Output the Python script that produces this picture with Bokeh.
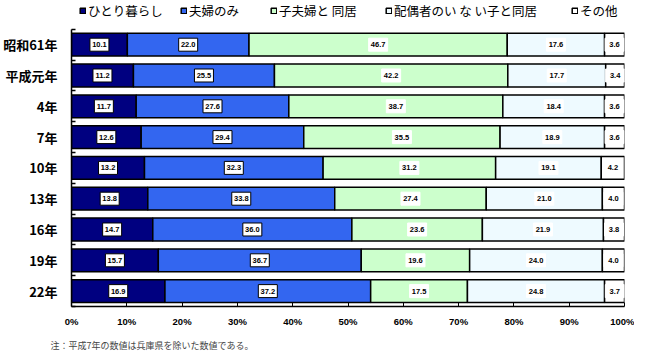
from bokeh.plotting import figure
from bokeh.models import ColumnDataSource, Legend, LegendItem, FixedTicker, Title, Range1d
from bokeh.core.properties import value
from bokeh.embed import file_html
from bokeh.resources import INLINE

years = ["昭和61年", "平成元年", "4年", "7年", "10年", "13年", "16年", "19年", "22年"]
series_names = ["ひとり暮らし", "夫婦のみ", "子夫婦と 同居", "配偶者のい な い子と同居", "その他"]
hitori = [10.1, 11.2, 11.7, 12.6, 13.2, 13.8, 14.7, 15.7, 16.9]
fufu = [22.0, 25.5, 27.6, 29.4, 32.3, 33.8, 36.0, 36.7, 37.2]
kofufu = [46.7, 42.2, 38.7, 35.5, 31.2, 27.4, 23.6, 19.6, 17.5]
haigu = [17.6, 17.7, 18.4, 18.9, 19.1, 21.0, 21.9, 24.0, 24.8]
sonota = [3.6, 3.4, 3.6, 3.6, 4.2, 4.0, 3.8, 4.0, 3.7]
x_ticks = [0, 10, 20, 30, 40, 50, 60, 70, 80, 90, 100]
note = "注：平成7年の数値は兵庫県を除いた数値である。"

colors = ["#000080", "#3366f0", "#ccffcc", "#eefaff", "#ffffff"]
label_borders = ["black", "black", "white", "white", "white"]
series = [hitori, fufu, kofufu, haigu, sonota]
legend_x = [8, 109, 199, 314, 500]   # legend item offsets (px from plot left)

JP = "Noto Sans CJK JP"
n = len(years)
ypos = [n - 1 - i for i in range(n)]   # first category on top

p = figure(width=634, height=358, x_range=(0, 100), y_range=Range1d(-0.5, n - 0.5 + 0.87),
           output_backend="svg", toolbar_location=None,
           min_border_left=65, min_border_right=10, min_border_top=2, min_border_bottom=48)
p.outline_line_color = None
p.xgrid.grid_line_color = None
p.ygrid.grid_line_color = None

left = [0.0] * n
for vals, col, name, bcol, lx in zip(series, colors, series_names, label_borders, legend_x):
    right = [l + v for l, v in zip(left, vals)]
    mid = [(l + r) / 2 for l, r in zip(left, right)]
    src = ColumnDataSource(dict(y=ypos, left=left, right=right, mid=mid,
                                lab=[f"{v:.1f}" for v in vals]))
    r = p.hbar(y="y", left="left", right="right", height=0.74, source=src,
               fill_color=col, line_color="black", line_width=1.5)
    p.rect(x="mid", y="y", width=19, height=13, width_units="screen",
           height_units="screen", source=src, fill_color="white",
           line_color=bcol, line_width=1)
    p.text(x="mid", y="y", text="lab", source=src, text_align="center",
           text_baseline="middle", text_font=value("Liberation Sans"),
           text_font_size="7.5px", text_font_style="bold", text_color="black")
    lg = Legend(items=[LegendItem(label=name, renderers=[r])], location=(lx, 286),
                glyph_width=7, glyph_height=7, label_text_font=JP,
                label_text_font_size="12.5px", label_standoff=2,
                label_text_color="black",
                padding=0, margin=0, border_line_color=None,
                background_fill_alpha=0, label_height=14)
    p.add_layout(lg)
    left = right

p.xaxis.ticker = FixedTicker(ticks=x_ticks)
p.xaxis.major_label_overrides = {t: f"{t}%" for t in x_ticks}
p.xaxis.major_label_text_font = "Liberation Sans"
p.xaxis.major_label_text_font_size = "9.5px"
p.xaxis.major_label_text_font_style = "bold"
p.xaxis.major_label_text_color = "black"
p.xaxis.major_tick_in = 4
p.xaxis.major_tick_out = 0
p.xaxis.minor_tick_line_color = None
p.xaxis.axis_line_width = 1.5
p.xaxis.major_label_standoff = 9

p.yaxis.ticker = FixedTicker(ticks=ypos, minor_ticks=[y - 0.5 for y in ypos] + [n - 0.5])
p.yaxis.major_label_overrides = {y: lab for y, lab in zip(ypos, years)}
p.yaxis.bounds = (-0.5, n - 0.5)
p.yaxis.major_label_text_font = JP
p.yaxis.major_label_text_font_size = "13px"
p.yaxis.major_label_text_font_style = "bold"
p.yaxis.major_label_text_color = "black"
p.yaxis.major_tick_line_color = None
p.yaxis.minor_tick_in = 4
p.yaxis.minor_tick_out = 0
p.yaxis.minor_tick_line_width = 1.5
p.yaxis.axis_line_width = 1.5
p.yaxis.major_label_standoff = 8

p.add_layout(Title(text=note, align="left", text_font=JP, text_font_size="9px",
                   text_font_style="normal", standoff=14, offset=-21), "below")

open("out.html", "w").write(file_html(p, INLINE))
